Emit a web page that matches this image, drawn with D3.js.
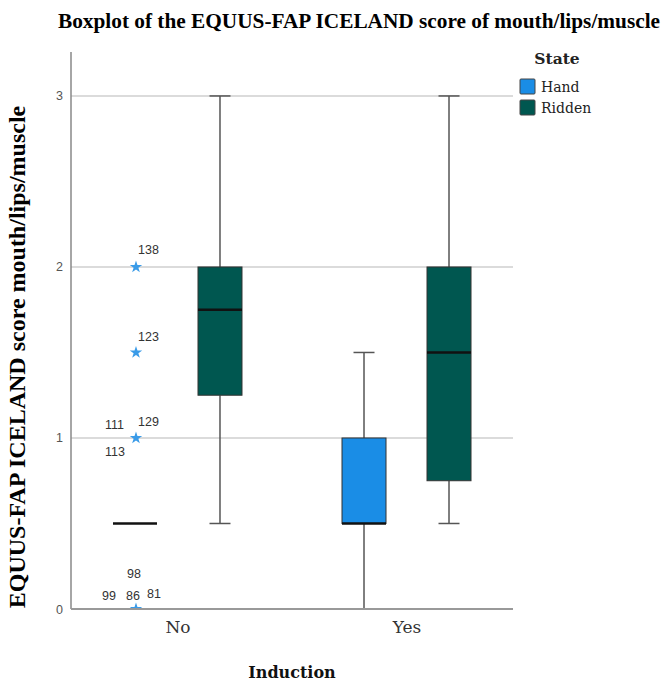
<!DOCTYPE html>
<html>
<head>
<meta charset="utf-8">
<script src="https://cdn.jsdelivr.net/npm/d3@7"></script>
<style>
  html, body { margin: 0; padding: 0; background: #fff; }
  svg { display: block; }
</style>
</head>
<body>
<svg id="chart" width="664" height="682"></svg>
<script>
// ---- data ----
const inductions = ["No", "Yes"];
const states = ["Hand", "Ridden"];
// box stats per group: [induction, state, whiskerLow, q1, median, q3, whiskerHigh]
const boxNo_Hand   = ["No",  "Hand",   0.5, 0.5, 0.5, 0.5, 0.5];
const boxNo_Ridden = ["No",  "Ridden", 0.5, 1.25, 1.75, 2.0, 3.0];
const boxYes_Hand  = ["Yes", "Hand",   0.0, 0.5, 0.5, 1.0, 1.5];
const boxYes_Ridden= ["Yes", "Ridden", 0.5, 0.75, 1.5, 2.0, 3.0];
// outliers (extreme values) for No / Hand
const outlierIds    = ["138", "123", "111", "129", "113", "99", "86", "81", "98"];
const outlierValues = [2.0,   1.5,   1.0,   1.0,   1.0,   0.0,  0.0,  0.0,  0.0];
const outlierGroup  = ["No", "Hand"];
const yTicks = [0, 1, 2, 3];
const colors = { Hand: "#1a8de6", Ridden: "#005750" };

// label offsets (layout only)
const labelOffset = {
  "138": [3, -17], "123": [3, -16], "129": [3, -16], "111": [-30, -13], "113": [-30, 14],
  "99": [-33, -13], "86": [-9, -13], "81": [12, -15], "98": [-8, -35]
};

const boxes = [boxNo_Hand, boxNo_Ridden, boxYes_Hand, boxYes_Ridden].map(d => ({
  ind: d[0], state: d[1], lo: d[2], q1: d[3], med: d[4], q3: d[5], hi: d[6]
}));

const svg = d3.select("#chart");
const pL = 71, pR = 513, pT = 52, pB = 609;

const y = d3.scaleLinear().domain([0, 3.257]).range([pB, pT]);
const x = d3.scalePoint().domain(inductions).range([pL, pR]).padding(0.465);
const xs = d3.scaleBand().domain(states).range([-85, 85]);
const boxW = 44, capW = 21;
const cx = (ind, st) => x(ind) + xs(st) + xs.bandwidth() / 2;

// gridlines
svg.append("g").selectAll("line").data(yTicks.filter(t => t > 0)).join("line")
  .attr("x1", pL).attr("x2", pR)
  .attr("y1", d => y(d)).attr("y2", d => y(d))
  .attr("stroke", "#cfcfcf").attr("stroke-width", 1.5);

// y axis ticks labels via d3 axis
const yAxis = svg.append("g").attr("transform", `translate(${pL},0)`)
  .call(d3.axisLeft(y).tickValues(yTicks).tickSize(0).tickPadding(8).tickFormat(d3.format("d")));
yAxis.select(".domain").remove();
yAxis.selectAll("text").attr("font-family", "Liberation Sans, Arial, sans-serif")
  .attr("font-size", 12.5).attr("fill", "#555");

// boxes
const g = svg.append("g");
boxes.forEach(b => {
  const c = cx(b.ind, b.state);
  const col = "#555";
  if (b.hi > b.q3) {
    g.append("line").attr("x1", c).attr("x2", c).attr("y1", y(b.q3)).attr("y2", y(b.hi))
      .attr("stroke", col).attr("stroke-width", 1.5);
    g.append("line").attr("x1", c - capW / 2).attr("x2", c + capW / 2).attr("y1", y(b.hi)).attr("y2", y(b.hi))
      .attr("stroke", col).attr("stroke-width", 1.5);
  }
  if (b.lo < b.q1) {
    g.append("line").attr("x1", c).attr("x2", c).attr("y1", y(b.q1)).attr("y2", y(b.lo))
      .attr("stroke", col).attr("stroke-width", 1.5);
    g.append("line").attr("x1", c - capW / 2).attr("x2", c + capW / 2).attr("y1", y(b.lo)).attr("y2", y(b.lo))
      .attr("stroke", col).attr("stroke-width", 1.5);
  }
  if (b.q3 > b.q1) {
    g.append("rect").attr("x", c - boxW / 2).attr("width", boxW)
      .attr("y", y(b.q3)).attr("height", y(b.q1) - y(b.q3))
      .attr("fill", colors[b.state]).attr("stroke", "#333").attr("stroke-width", 1);
  }
  g.append("line").attr("x1", c - boxW / 2).attr("x2", c + boxW / 2)
    .attr("y1", y(b.med)).attr("y2", y(b.med))
    .attr("stroke", "#111").attr("stroke-width", 2.5);
});

// outliers
const oc = cx(outlierGroup[0], outlierGroup[1]);
svg.append("defs").append("clipPath").attr("id", "plotclip")
  .append("rect").attr("x", pL).attr("y", pT).attr("width", pR - pL).attr("height", pB - pT);
const star = d3.symbol().type(d3.symbolStar).size(48);
const uniqueVals = Array.from(new Set(outlierValues));
svg.append("g").attr("clip-path", "url(#plotclip)").selectAll("path").data(uniqueVals).join("path")
  .attr("d", star).attr("transform", d => `translate(${oc + 1},${y(d)})`)
  .attr("fill", "#3a9be8");
svg.append("g").selectAll("text").data(outlierIds).join("text")
  .attr("x", d => oc + labelOffset[d][0])
  .attr("y", (d, i) => y(outlierValues[i]) + labelOffset[d][1])
  .attr("dy", "0.35em")
  .attr("font-family", "Liberation Sans, Arial, sans-serif").attr("font-size", 12.5)
  .attr("fill", "#333").text(d => d);

// axis lines
svg.append("line").attr("x1", pL).attr("x2", pL).attr("y1", pT).attr("y2", pB)
  .attr("stroke", "#888").attr("stroke-width", 1.5);
svg.append("line").attr("x1", pL).attr("x2", pR).attr("y1", pB).attr("y2", pB)
  .attr("stroke", "#999").attr("stroke-width", 2);

// x axis labels
const xAxis = svg.append("g").attr("transform", `translate(0,${pB})`)
  .call(d3.axisBottom(x).tickSize(0).tickPadding(12));
xAxis.select(".domain").remove();
xAxis.selectAll("text").attr("font-family", "DejaVu Serif, serif").attr("font-size", 17)
  .attr("fill", "#333").attr("font-weight", 300);

// titles
svg.append("text").attr("x", 359).attr("y", 28).attr("text-anchor", "middle")
  .attr("font-family", "Liberation Serif, Times New Roman, serif").attr("font-weight", "bold")
  .attr("font-size", 21.3).attr("fill", "#000")
  .text("Boxplot of the EQUUS-FAP ICELAND score of mouth/lips/muscle");
svg.append("text").attr("transform", "translate(25,357) rotate(-90)").attr("text-anchor", "middle")
  .attr("font-family", "Liberation Serif, Times New Roman, serif").attr("font-weight", "bold")
  .attr("font-size", 24).attr("fill", "#000")
  .text("EQUUS-FAP ICELAND score mouth/lips/muscle");
svg.append("text").attr("x", 292).attr("y", 678).attr("text-anchor", "middle")
  .attr("font-family", "DejaVu Serif, serif").attr("font-weight", "bold")
  .attr("font-size", 16).attr("fill", "#111").text("Induction");

// legend
const lg = svg.append("g");
lg.append("text").attr("x", 557).attr("y", 64).attr("text-anchor", "middle")
  .attr("font-family", "DejaVu Serif, serif").attr("font-weight", "bold")
  .attr("font-size", 15.5).attr("fill", "#222").text("State");
states.forEach((s, i) => {
  lg.append("rect").attr("x", 520).attr("y", 79 + i * 21).attr("width", 15).attr("height", 15)
    .attr("fill", colors[s]).attr("stroke", "#444").attr("stroke-width", 1).attr("rx", 1);
  lg.append("text").attr("x", 541).attr("y", 87 + i * 21).attr("dy", "0.35em")
    .attr("font-family", "DejaVu Serif, serif").attr("font-size", 14).attr("fill", "#222").text(s);
});
</script>
</body>
</html>
